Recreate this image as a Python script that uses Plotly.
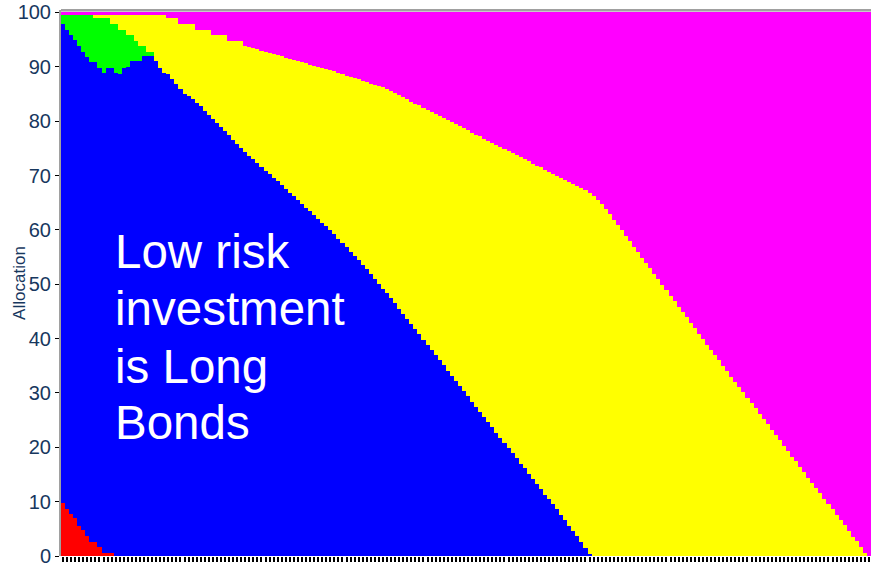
import plotly.graph_objects as go

# Efficient-frontier style allocation: 200 portfolios from low risk (left) to high risk (right)
n_portfolios = 200
portfolio = list(range(n_portfolios))

# Share of each asset class per portfolio (percent)
cash = [9.8, 8.6, 7.7, 6.9, 5.6, 4.7, 3.6, 2.6, 2.6, 1.6,
        0.5, 0.5, 0.5] + [0.0] * 187

long_bonds = [
    88.0, 88.1, 88.2, 88.0, 88.2, 88.0, 88.2, 88.3, 88.3, 88.2,
    88.4, 89.3, 89.3, 88.8, 88.6, 89.7, 89.9, 91.0, 91.0, 91.0,
    91.9, 91.9, 91.9, 91.0, 89.7, 88.8, 88.6, 87.8, 86.9, 86.0,
    85.0, 84.6, 84.0, 83.4, 82.7, 81.9, 81.2, 80.4, 79.7, 78.9,
    78.2, 77.4, 76.6, 75.8, 75.0, 74.3, 73.6, 73.0, 72.3, 71.6,
    70.9, 70.2, 69.6, 68.9, 68.2, 67.5, 66.8, 66.2, 65.5, 64.8,
    64.1, 63.4, 62.7, 62.0, 61.3, 60.7, 60.0, 59.2, 58.4, 57.6,
    56.8, 56.0, 55.2, 54.4, 53.6, 52.8, 51.9, 51.0, 50.1, 49.2,
    48.3, 47.4, 46.5, 45.5, 44.6, 43.6, 42.7, 41.7, 40.8, 39.8,
    38.9, 37.9, 37.0, 36.0, 35.1, 34.1, 33.2, 32.2, 31.3, 30.3,
    29.4, 28.4, 27.5, 26.5, 25.6, 24.6, 23.7, 22.7, 21.8, 20.8,
    19.9, 18.9, 18.0, 17.0, 16.1, 15.1, 14.2, 13.2, 12.3, 11.3,
    10.4, 9.5, 8.6, 7.6, 6.6, 5.6, 4.6, 3.6, 2.6, 1.4,
    0.3] + [0.0] * 69

corp_bonds = [
    1.9, 2.8, 3.6, 4.6, 5.7, 6.8, 7.7, 8.6, 8.0, 9.1,
    10.0, 9.1, 8.0, 9.0, 8.1, 7.0, 5.9, 4.8, 3.8, 2.8,
    1.9, 0.8, 0.8] + [0.0] * 177

# Cumulative share of cash + bonds + large caps (upper edge of the large-cap band)
upper_large = [
    99.7, 99.5, 99.5, 99.5, 99.5, 99.5, 99.5, 99.5, 99.7, 99.7,
    99.7, 99.7, 99.5, 99.5, 99.5, 99.5, 99.5, 99.5, 99.5, 99.5,
    99.5, 99.5, 99.5, 99.5, 99.5, 99.5, 98.9, 98.9, 98.9, 97.8,
    97.8, 97.8, 97.8, 96.7, 96.7, 96.7, 96.7, 95.8, 95.8, 95.8,
    95.8, 94.8, 94.8, 94.8, 94.8, 93.8, 93.6, 93.4, 93.2, 92.9,
    92.7, 92.5, 92.3, 92.1, 91.9, 91.7, 91.5, 91.3, 91.1, 90.9,
    90.7, 90.4, 90.2, 90.0, 89.8, 89.6, 89.4, 89.2, 88.9, 88.7,
    88.4, 88.2, 87.9, 87.7, 87.4, 87.2, 86.9, 86.7, 86.4, 86.2,
    85.9, 85.5, 85.1, 84.8, 84.4, 84.0, 83.6, 83.2, 82.9, 82.5,
    82.1, 81.7, 81.3, 81.0, 80.6, 80.2, 79.8, 79.4, 79.1, 78.7,
    78.3, 77.9, 77.5, 77.2, 76.8, 76.4, 76.0, 75.6, 75.3, 74.9,
    74.5, 74.1, 73.7, 73.4, 73.0, 72.6, 72.2, 71.8, 71.5, 71.1,
    70.7, 70.3, 69.9, 69.6, 69.2, 68.8, 68.4, 68.0, 67.7, 67.3,
    66.8, 66.2, 65.5, 64.7, 63.8, 62.9, 61.9, 60.9, 59.9, 58.9,
    57.9, 56.9, 55.9, 54.9, 53.9, 52.9, 51.9, 50.9, 49.9, 48.9,
    47.9, 46.9, 45.9, 44.9, 43.9, 42.9, 41.9, 40.9, 39.9, 38.9,
    37.9, 37.0, 36.0, 35.0, 34.0, 33.0, 32.1, 31.1, 30.1, 29.1,
    28.1, 27.2, 26.2, 25.2, 24.2, 23.2, 22.3, 21.3, 20.3, 19.3,
    18.3, 17.4, 16.4, 15.4, 14.4, 13.4, 12.5, 11.5, 10.5, 9.6,
    8.7, 7.6, 6.6, 5.7, 4.6, 3.5, 2.8, 1.7, 0.6, 0.0]

# Large caps fill the band above bonds, small caps take the remainder to 100 %
large_caps = [max(0.0, round(u - (c + lb + cb), 2))
              for u, c, lb, cb in zip(upper_large, cash, long_bonds, corp_bonds)]
small_caps = [round(100.0 - u, 2) for u in upper_large]

series = [
    ("Cash", cash, "#FF0000"),
    ("Long Bonds", long_bonds, "#0000FF"),
    ("Corporate Bonds", corp_bonds, "#00FF00"),
    ("Large Caps", large_caps, "#FFFF00"),
    ("Small Caps", small_caps, "#FF00FF"),
]

fig = go.Figure()
for name, values, color in series:
    fig.add_trace(go.Bar(
        x=portfolio, y=values, name=name,
        marker=dict(color=color, line=dict(width=0)),
    ))

navy = "#17375E"
fig.update_layout(
    width=879, height=564,
    margin=dict(l=61, r=8, t=10, b=8, autoexpand=False),
    paper_bgcolor="white",
    plot_bgcolor="#C8C8C8",
    barmode="stack", bargap=0,
    showlegend=False,
    font=dict(family="Liberation Sans, Arial, sans-serif", color=navy),
)
fig.update_xaxes(
    automargin=False,
    range=[-0.5, n_portfolios - 0.5],
    tickmode="array", tickvals=portfolio,
    ticks="outside", ticklen=5, tickwidth=2, tickcolor="black",
    showticklabels=False, showgrid=False, zeroline=False, showline=False,
)
fig.update_yaxes(
    automargin=False,
    range=[0, 100.45],
    tickmode="array", tickvals=list(range(0, 101, 10)),
    ticks="outside", ticklen=4, tickwidth=1, tickcolor="black",
    tickfont=dict(size=20, color=navy),
    ticklabeloverflow="allow",
    showgrid=False, zeroline=False,
    showline=True, linecolor="#A0A0A0", linewidth=2,
)

# top border of the plotting area
fig.add_shape(type="line", xref="paper", yref="paper",
              x0=0, x1=1, y0=1, y1=1, line=dict(color="#A0A0A0", width=2))

# y-axis title
fig.add_annotation(text="Allocation", xref="paper", yref="paper",
                   x=-0.052, y=0.5, textangle=-90, showarrow=False,
                   xanchor="center", yanchor="middle",
                   font=dict(size=17, color=navy))

# in-plot note
note_lines = ["Low risk", "investment", "is Long", "Bonds"]
note_y = [0.5586, 0.4524, 0.3462, 0.2436]
for line, yy in zip(note_lines, note_y):
    fig.add_annotation(text=line, xref="paper", yref="paper",
                       x=0.064, y=yy, showarrow=False,
                       xanchor="left", yanchor="middle",
                       font=dict(size=47.5, color="white"))

fig.write_html("out.html")
